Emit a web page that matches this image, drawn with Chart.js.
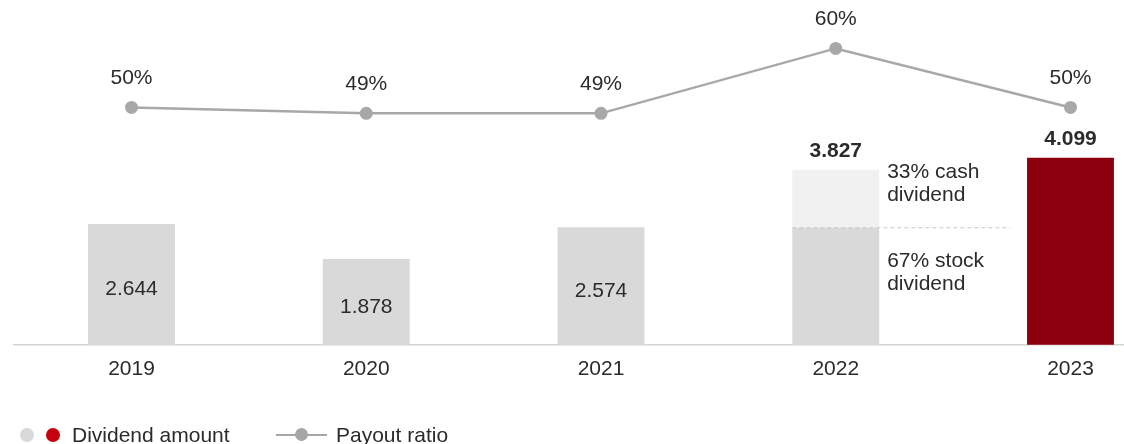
<!DOCTYPE html>
<html>
<head>
<meta charset="utf-8">
<script src="https://cdn.jsdelivr.net/npm/chart.js@4.4.1/dist/chart.umd.min.js"></script>
<style>
  html, body { margin: 0; padding: 0; background: #fff; }
  #wrap { position: relative; width: 1124px; height: 444px; overflow: hidden;
          font-family: "Liberation Sans", Arial, Helvetica, sans-serif; }
  #chart { position: absolute; left: 0; top: 0; }
  .legend { position: absolute; top: 423px; height: 24px; display: flex; align-items: center;
            font-size: 21px; color: #2b2b2b; white-space: nowrap; }
  .dot { width: 14px; height: 14px; border-radius: 50%; display: inline-block; }
  .swatch-line { position: relative; width: 51px; height: 2.5px; background: #a6a6a6; display: inline-block; }
  .swatch-line::after { content: ""; position: absolute; left: 19px; top: -5.5px; width: 13px; height: 13px;
                        border-radius: 50%; background: #a6a6a6; }
</style>
</head>
<body>
<div id="wrap">
  <canvas id="chart" width="1124" height="444"></canvas>
  <div class="legend" style="left:20px;">
    <span class="dot" style="background:#d9d9d9;"></span>
    <span class="dot" style="background:#c4000f;margin-left:12px;"></span>
    <span style="margin-left:12px;">Dividend amount</span>
  </div>
  <div class="legend" style="left:276px;">
    <span class="swatch-line"></span>
    <span style="margin-left:9px;">Payout ratio</span>
  </div>
</div>
<script>
// Dividend per year (total amount) and payout ratio in percent
const years = ['2019', '2020', '2021', '2022', '2023'];
const dividendTotal = [2.644, 1.878, 2.574, 3.827, 4.099];
const payoutRatio = [50, 49, 49, 60, 50];
// Share of each year's dividend paid as stock (2022 was split stock / cash)
const stockShare = [1, 1, 1, 0.67, 1];
// Years whose total is printed in bold above the bar
const labelAbove = [false, false, false, true, true];
const barColors = ['#d9d9d9', '#d9d9d9', '#d9d9d9', '#d9d9d9', '#8c000e'];
const splitNotes = { cash: ['33% cash', 'dividend'], stock: ['67% stock', 'dividend'] };

const stockPart = dividendTotal.map((v, i) => v * stockShare[i]);
const cashPart = dividendTotal.map((v, i) => v - stockPart[i]);

const FONT = '"Liberation Sans", Arial, Helvetica, sans-serif';
const TEXT = '#2b2b2b';
const SIZE = 21;

const annotations = {
  id: 'annotations',
  beforeDatasetsDraw(chart) {
    const { ctx } = chart;
    const y0 = chart.scales.y.getPixelForValue(0);
    ctx.save();
    ctx.strokeStyle = '#d4d4d4';
    ctx.lineWidth = 1.5;
    ctx.beginPath();
    ctx.moveTo(13, y0);
    ctx.lineTo(chart.width, y0);
    ctx.stroke();
    ctx.restore();
  },
  afterDatasetsDraw(chart) {
    const { ctx } = chart;
    const ys = chart.scales.y;
    const bars = chart.getDatasetMeta(0).data;
    const line = chart.getDatasetMeta(2).data;
    ctx.save();
    ctx.fillStyle = TEXT;
    ctx.textAlign = 'center';

    dividendTotal.forEach((v, i) => {
      const bar = bars[i];
      const top = ys.getPixelForValue(v);
      const bottom = ys.getPixelForValue(0);
      const txt = v.toFixed(3);
      if (labelAbove[i]) {
        ctx.font = 'bold ' + SIZE + 'px ' + FONT;
        ctx.textBaseline = 'alphabetic';
        ctx.fillText(txt, bar.x, top - 13);
      } else {
        ctx.font = SIZE + 'px ' + FONT;
        ctx.textBaseline = 'middle';
        ctx.fillText(txt, bar.x, (top + bottom) / 2 + 5);
      }

      if (stockShare[i] < 1) {
        const split = ys.getPixelForValue(stockPart[i]);
        const left = bar.x - bar.width / 2;
        const right = bar.x + bar.width / 2;
        ctx.save();
        ctx.strokeStyle = '#c8c8c8';
        ctx.lineWidth = 1;
        ctx.setLineDash([4, 3]);
        ctx.beginPath();
        ctx.moveTo(left, split);
        ctx.lineTo(right + 131, split);
        ctx.stroke();
        ctx.restore();

        ctx.font = SIZE + 'px ' + FONT;
        ctx.textAlign = 'left';
        ctx.textBaseline = 'middle';
        splitNotes.cash.forEach((s, k) => ctx.fillText(s, right + 8, top + 2 + k * 23));
        splitNotes.stock.forEach((s, k) => ctx.fillText(s, right + 8, split + 33 + k * 23));
        ctx.textAlign = 'center';
      }
    });

    ctx.font = SIZE + 'px ' + FONT;
    ctx.textBaseline = 'middle';
    payoutRatio.forEach((p, i) => {
      const pt = line[i];
      ctx.fillText(p + '%', pt.x, pt.y - 29);
    });
    ctx.restore();
  }
};

new Chart(document.getElementById('chart'), {
  data: {
    labels: years,
    datasets: [
      {
        type: 'bar',
        label: 'Dividend amount',
        data: stockPart,
        backgroundColor: barColors,
        stack: 'div',
        yAxisID: 'y',
        clip: false,
        order: 2
      },
      {
        type: 'bar',
        label: 'Cash dividend',
        data: cashPart,
        backgroundColor: '#f1f1f1',
        stack: 'div',
        yAxisID: 'y',
        clip: false,
        order: 2
      },
      {
        type: 'line',
        label: 'Payout ratio',
        data: payoutRatio,
        yAxisID: 'y1',
        borderColor: '#a8a8a8',
        borderWidth: 2.5,
        pointRadius: 6.5,
        pointBackgroundColor: '#a8a8a8',
        pointBorderWidth: 0,
        tension: 0,
        clip: false,
        order: 1
      }
    ]
  },
  options: {
    responsive: false,
    animation: false,
    layout: { padding: { left: 131.5, right: 53.5, top: 0, bottom: 50 } },
    datasets: { bar: { barPercentage: 0.37, categoryPercentage: 1 } },
    plugins: { legend: { display: false }, tooltip: { enabled: false } },
    scales: {
      x: {
        offset: false,
        grid: { display: false, drawTicks: false },
        border: { display: false },
        ticks: { color: TEXT, font: { family: FONT, size: SIZE }, padding: 12, maxRotation: 0 }
      },
      y: {
        display: false,
        stacked: true,
        min: 0,
        max: 7.41
      },
      y1: {
        display: false,
        min: 9.8,
        max: 67.1
      }
    }
  },
  plugins: [annotations]
});
</script>
</body>
</html>
